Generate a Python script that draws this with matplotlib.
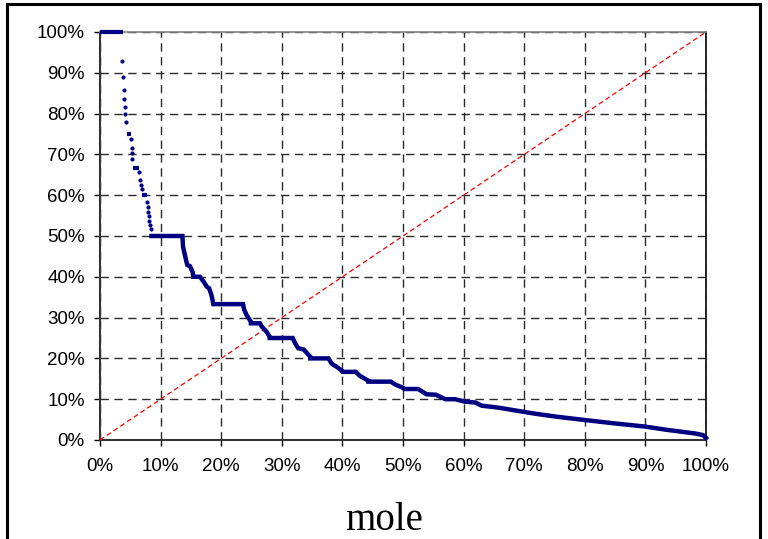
import matplotlib.pyplot as plt
from matplotlib.patches import Rectangle
from matplotlib.ticker import PercentFormatter

# sparse points on the steep upper part of the curve (x %, y %)
dot_x = [3.7, 3.85, 3.9, 4.0, 4.1, 4.2, 4.35, 5.1, 5.2, 5.3, 5.35,
         6.5, 6.6, 6.8, 6.9, 7.7, 7.85, 7.95, 8.05, 8.15, 8.3, 8.45]
dot_y = [93.0, 88.9, 85.8, 83.5, 81.7, 80.0, 77.9, 73.7, 71.5, 70.3, 68.8,
         65.8, 63.7, 62.5, 61.4, 58.4, 57.0, 55.8, 54.8, 53.6, 52.6, 51.6]

# short flat runs at the top (start %, end %, level %)
flat_start = [0.0, 4.45, 5.4, 7.0]
flat_end = [3.8, 5.1, 6.5, 7.7]
flat_level = [100.0, 75.0, 66.7, 60.0]

# dense part of the curve
curve_x = [8.5, 13.6, 13.7, 14.2, 14.4, 14.85, 15.3, 15.4, 16.5, 17.2, 17.6, 18.0,
           18.4, 18.7, 23.6, 23.8, 24.2, 24.9, 24.9, 26.4, 26.7, 27.5, 28.0, 28.0,
           31.8, 32.2, 32.7, 33.6, 34.7, 34.7, 37.7, 38.2, 38.5, 39.0, 39.9, 40.0,
           42.2, 42.9, 44.3, 44.3, 48.0, 48.7, 50.0, 50.2, 52.5, 53.9, 55.4, 56.7,
           57.0, 58.6, 60.2, 61.9, 63.0, 65.4, 67.1, 69.9, 72.0, 75.4, 80.0, 84.7,
           89.9, 93.5, 98.2, 99.5, 100.0]
curve_y = [50.0, 50.0, 47.4, 44.1, 42.9, 42.6, 41.1, 40.0, 40.0, 38.6, 37.6, 37.2,
           35.5, 33.3, 33.3, 31.9, 30.6, 29.0, 28.6, 28.6, 27.8, 26.5, 25.3, 25.0,
           25.0, 23.7, 22.5, 22.2, 20.4, 20.0, 20.0, 18.8, 18.4, 18.0, 17.0, 16.7,
           16.7, 15.7, 14.5, 14.3, 14.3, 13.6, 12.8, 12.5, 12.5, 11.2, 11.1, 10.2,
           10.0, 10.0, 9.4, 9.2, 8.4, 8.0, 7.6, 6.9, 6.4, 5.7, 4.9, 4.1,
           3.3, 2.5, 1.6, 1.2, 0.5]

diag_x = [0, 100]
diag_y = [0, 100]
ticks = list(range(0, 101, 10))

navy = '#000080'
plt.rcParams['font.family'] = ['Liberation Sans', 'DejaVu Sans']

fig = plt.figure(figsize=(7.68, 5.39), dpi=100)
ax = fig.add_axes([100 / 768, 1 - 440 / 539, 606 / 768, 408 / 539])

ax.plot(diag_x, diag_y, color='#ff0000', lw=0.9, linestyle=(0, (4, 2.5)), zorder=3)
ax.plot(curve_x, curve_y, color=navy, lw=3.2, solid_joinstyle='miter', zorder=4,
        clip_on=False)
ax.hlines(flat_level, flat_start, flat_end, color=navy, lw=3, zorder=4, clip_on=False)
ax.plot(dot_x, dot_y, 'o', color=navy, ms=3, mew=0, zorder=4)

ax.set_xlim(0, 100)
ax.set_ylim(0, 100)
ax.set_xticks(ticks)
ax.set_yticks(ticks)
ax.xaxis.set_major_formatter(PercentFormatter(decimals=0))
ax.yaxis.set_major_formatter(PercentFormatter(decimals=0))
ax.tick_params(direction='out', length=4, width=1, labelsize=13.5, color='black')
ax.tick_params(axis='x', pad=9)
ax.tick_params(axis='y', pad=7)
ax.grid(True, color='#2a2a2a', lw=1, linestyle=(0, (6, 4)))
ax.set_axisbelow(True)

for side in ['left', 'bottom']:
    ax.spines[side].set_color('#333333')
    ax.spines[side].set_linewidth(1.5)
ax.spines['right'].set_color('black')
ax.spines['right'].set_linewidth(1.2)
ax.spines['top'].set_color('#808080')
ax.spines['top'].set_linewidth(1.2)

fig.text(0.5, 9.5 / 539, 'mole', ha='center', va='baseline', fontsize=28,
         family='Liberation Serif')

# outer frame round the chart, open at the bottom
fig.patches.append(Rectangle((6.5 / 768, -0.1), 753 / 768, 1.1 - 3.5 / 539,
                             transform=fig.transFigure, fill=False, lw=2.2,
                             edgecolor='black', clip_on=False))

fig.savefig('out.png', dpi=100)
